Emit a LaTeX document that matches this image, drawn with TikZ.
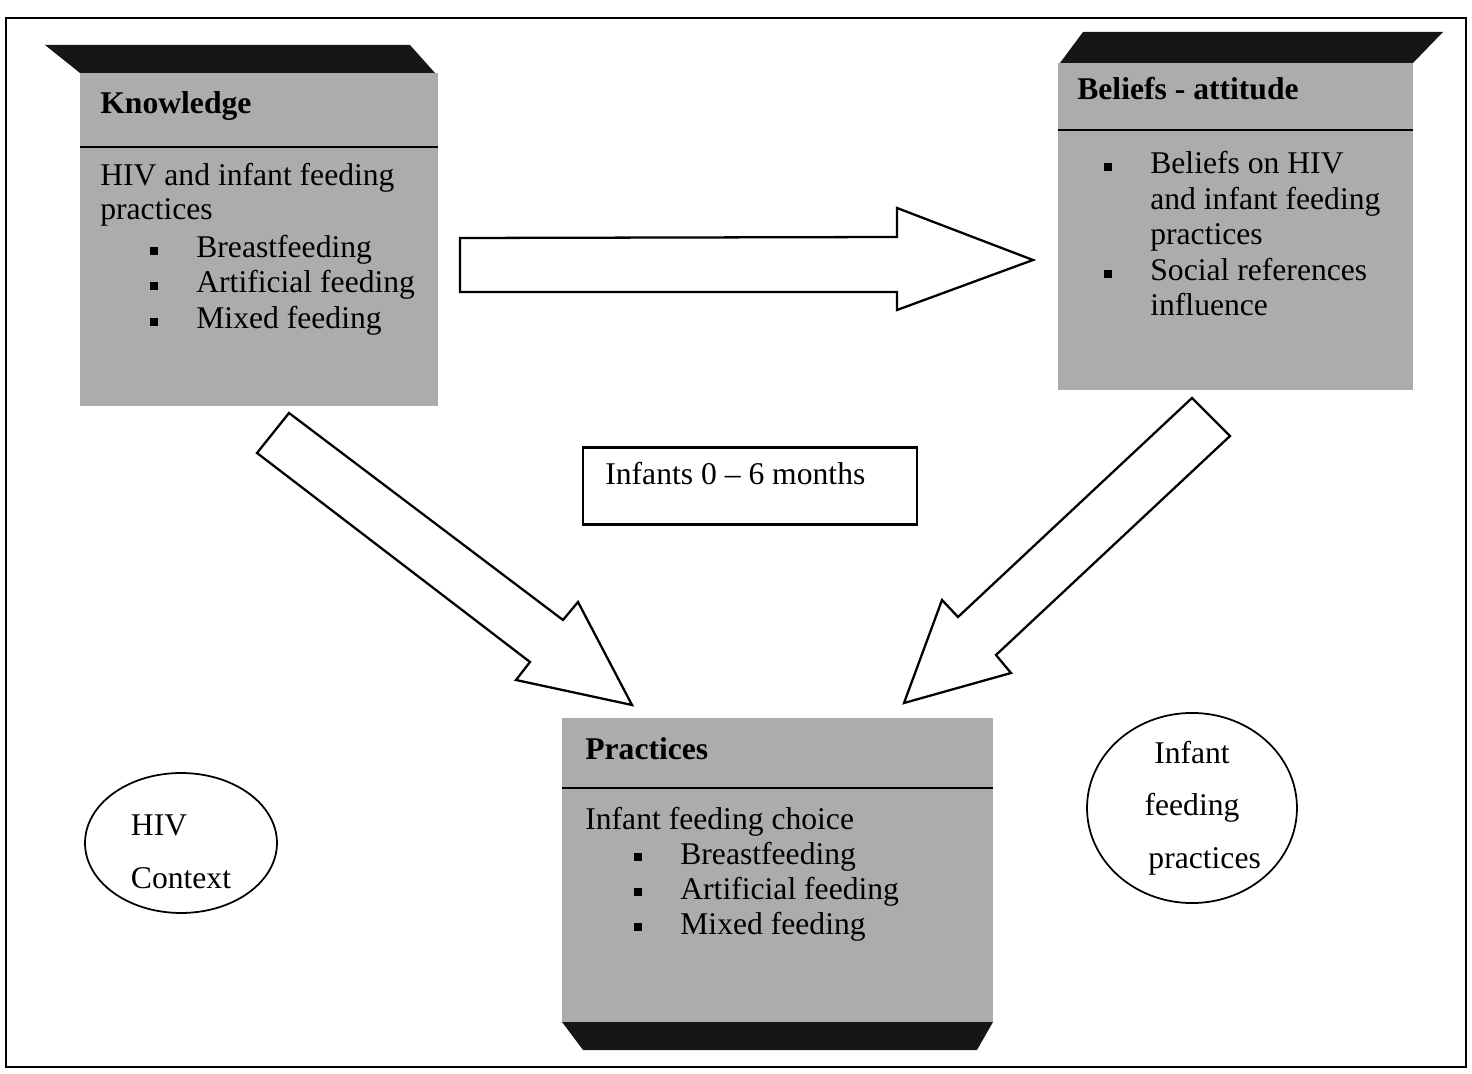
\documentclass[tikz,border=0pt]{standalone}
\usepackage{fontspec}
\setmainfont{Liberation Serif}
\usetikzlibrary{positioning,shapes.geometric}
\definecolor{boxgray}{RGB}{172,172,172}
\definecolor{lidblack}{RGB}{22,22,22}
\tikzset{
  framebox/.style={draw=black,line width=1.3pt},
  boxfill/.style={fill=boxgray},
  lidfill/.style={fill=lidblack},
  sepline/.style={draw=black,line width=0.9pt},
  blockarrow/.style={draw=black,fill=white,line width=1.3pt,line join=miter},
  bodytext/.style={font=\fontsize{18}{21}\selectfont,anchor=base west,inner sep=0pt},
  headtext/.style={font=\fontsize{18}{21}\selectfont\bfseries,anchor=base west,inner sep=0pt},
  sqbullet/.style={fill=black,minimum size=0.17cm,inner sep=0pt},
  ctxoval/.style={draw=black,line width=1pt,ellipse,inner sep=0pt,
    font=\fontsize{18}{30}\selectfont},
  agebox/.style={draw=black,line width=1.3pt,inner sep=0pt},
}
\newcommand{\gbox}[5]{%
  \fill[boxfill] ({#1},{#2}) rectangle ({#3},{#4});
  \draw[sepline] ({#1},{#5}) -- ({#3},{#5});}
\newcommand{\bitem}[4]{%
  \node[sqbullet] (#1b) at ({#2},{#3-7}) {};
  \node[bodytext] (#1) at ({#2+42},{#3}) {#4};}

\begin{document}
\begin{tikzpicture}[x=0.02cm,y=-0.02cm]
  \useasboundingbox (0,0) rectangle (1472,1074);
  \draw[framebox] (6,18) rectangle (1466,1067);
  % knowledge box
  \fill[lidfill] (45,45) -- (410,45) -- (435,73) -- (80,73) -- cycle;
  \gbox{80}{73}{438}{406}{147}
  \node[headtext] (knowhead) at (100,114) {Knowledge};
  \node[bodytext] (know1) at (100,186) {HIV and infant feeding};
  \node[bodytext] (know2) at (100,220) {practices};
  \bitem{knowa}{154}{258}{Breastfeeding}
  \bitem{knowb}{154}{293}{Artificial feeding}
  \bitem{knowc}{154}{329}{Mixed feeding}
  % beliefs box
  \fill[lidfill] (1083,32) -- (1443,32) -- (1413,63) -- (1060,63) -- cycle;
  \gbox{1058}{63}{1413}{390}{130}
  \node[headtext] (belhead) at (1077,100) {Beliefs - attitude};
  \bitem{bela}{1108}{174}{Beliefs on HIV}
  \node[bodytext] (bel2) at (1150,210) {and infant feeding};
  \node[bodytext] (bel3) at (1150,245) {practices};
  \bitem{belb}{1108}{281}{Social references}
  \node[bodytext] (bel5) at (1150,316) {influence};
  % practices box
  \gbox{562}{718}{993}{1022}{788}
  \fill[lidfill] (562,1022) -- (993,1022) -- (977,1050) -- (583,1050) -- cycle;
  \node[headtext] (prachead) at (585,760) {Practices};
  \node[bodytext] (prac1) at (585,829) {Infant feeding choice};
  \bitem{praca}{638}{864}{Breastfeeding}
  \bitem{pracb}{638}{899}{Artificial feeding}
  \bitem{pracc}{638}{934}{Mixed feeding}
  % block arrows
  \draw[blockarrow] (460,238) -- (897,237) -- (897,208) -- (1033,260)
    -- (897,310) -- (897,292) -- (460,292) -- cycle;
  \draw[blockarrow] (289,413) -- (563,620) -- (578,602) -- (632,705)
    -- (516,680) -- (530,662) -- (257,453) -- cycle;
  \draw[blockarrow] (1192,398) -- (1230,436) -- (996,655) -- (1011,673)
    -- (904,703) -- (942,600) -- (958,617) -- cycle;
  \node[agebox,minimum width=6.68cm,minimum height=1.54cm] (age) at (750,486) {};
  \node[bodytext] (agetext) at (605,485) {Infants 0 – 6 months};
  \node[ctxoval,minimum width=3.84cm,minimum height=2.8cm,align=left] (hiv) at (181,843)
    {\rule{0pt}{1.2em}HIV\\Context};
  \node[ctxoval,minimum width=4.2cm,minimum height=3.3cm,align=center] (ifp) at (1192,808)
    {Infant\\feeding\\\hspace{0.8em}practices};
\end{tikzpicture}
\end{document}
